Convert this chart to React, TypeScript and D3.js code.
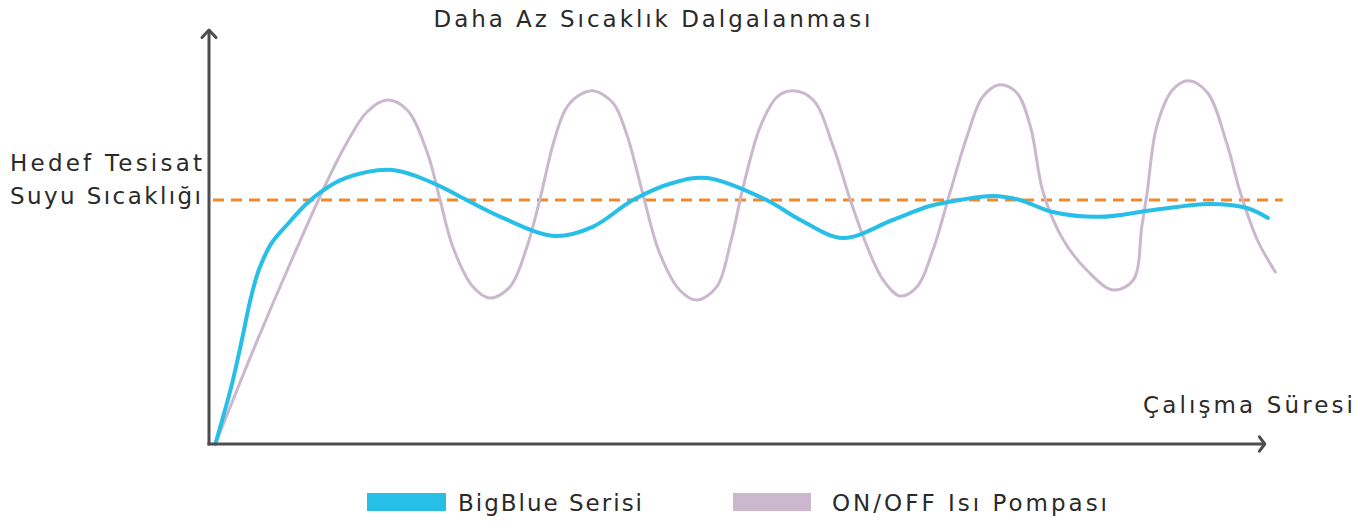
import React from "react";
import * as d3 from "d3";

// ---- data (time units 0..100, temperature units 0..100) ----
const bigBlueTime = [0.6, 2.1, 3.1, 3.9, 4.7, 5.9, 7.5, 9.1, 10.6, 12.8, 17.3, 21.1, 24.3, 27.5, 32.6, 36.2, 40.0, 43.8, 47.0, 52.6, 55.8, 59.8, 64.5, 68.0, 70.8, 74.0, 76.5, 79.6, 84.0, 89.1, 94.4, 97.9, 99.9];
const bigBlueTemp = [0, 14.3, 26, 36, 43.5, 50.2, 55.2, 59.8, 63.1, 66.4, 68.5, 65.3, 61, 56.8, 52, 54.3, 61, 65.3, 66.5, 61, 56, 51.5, 56, 59.5, 61, 62, 61, 58, 56.8, 58.5, 60, 59, 56.5];

const onOffTime = [0.6, 4.3, 7.8, 11.2, 13.0, 14.9, 16.8, 18.7, 20.6, 21.8, 23.0, 24.9, 26.5, 28.4, 30.0, 31.2, 32.5, 33.6, 34.7, 36.2, 38.1, 39.4, 40.9, 42.5, 44.4, 46.0, 47.9, 49.2, 50.4, 52.0, 53.6, 55.1, 57.0, 58.9, 60.5, 62.1, 63.6, 65.2, 66.8, 68.3, 69.9, 71.5, 73.0, 74.6, 76.2, 77.5, 78.7, 80.6, 82.8, 85.3, 87.2, 88.0, 88.5, 89.4, 90.9, 92.4, 94.2, 96.0, 97.3, 98.9, 100.6];
const onOffTemp = [0, 24.3, 46, 66, 75.3, 83, 86, 83.5, 72.8, 61, 49.3, 39.3, 36.5, 39.3, 49.3, 61, 75.3, 83.5, 86.8, 88.3, 85.3, 77.5, 62.8, 47.8, 38.5, 36, 39.3, 50.3, 64.3, 79.3, 86.8, 88.3, 86, 74.3, 61, 49.3, 41, 37, 39.3, 48.5, 62.8, 76.8, 86.8, 89.8, 87.8, 79.3, 62.8, 51, 43.5, 38.5, 41, 54.3, 62.8, 79.3, 88.5, 90.8, 87.8, 75.3, 62.8, 51, 43];

const targetTemp = 61;

const titleText = "Daha Az Sıcaklık Dalgalanması";
const yLabelLines = ["Hedef Tesisat", "Suyu Sıcaklığı"];
const xLabelText = "Çalışma Süresi";
const seriesNames = ["BigBlue Serisi", "ON/OFF Isı Pompası"];
const seriesColors = ["#27bfe8", "#cbb8ce"];

const W = 1371;
const H = 528;

export default function App() {
  const x = d3.scaleLinear().domain([0, 100]).range([209, 1269]);
  const y = d3.scaleLinear().domain([0, 100]).range([444, 44]);

  const blueData = bigBlueTime.map((t, i) => [t, bigBlueTemp[i]] as [number, number]);
  const purpleData = onOffTime.map((t, i) => [t, onOffTemp[i]] as [number, number]);

  const line = d3
    .line<[number, number]>()
    .x((d) => x(d[0]))
    .y((d) => y(d[1]))
    .curve(d3.curveCatmullRom.alpha(0.5));

  const font = "'DejaVu Sans', 'Noto Sans', sans-serif";
  const textColor = "#2a2a2a";
  const axisColor = "#4d4d4d";
  const fs = 23;

  return (
    <svg
      width={W}
      height={H}
      style={{ position: "absolute", left: 0, top: 0, background: "#fff" }}
      fontFamily={font}
    >
      {/* title */}
      <text x={652} y={27} textAnchor="middle" fontSize={fs} fill={textColor} textLength={437} lengthAdjust="spacing">
        {titleText}
      </text>

      {/* y label */}
      <text x={202} y={171} textAnchor="end" fontSize={fs} fill={textColor} textLength={192} lengthAdjust="spacing">
        {yLabelLines[0]}
      </text>
      <text x={201} y={204} textAnchor="end" fontSize={fs} fill={textColor} textLength={191} lengthAdjust="spacing">
        {yLabelLines[1]}
      </text>

      {/* x label */}
      <text x={1143} y={413} fontSize={fs} fill={textColor} textLength={210} lengthAdjust="spacing">
        {xLabelText}
      </text>

      {/* target dashed line */}
      <line
        x1={x(0) + 4}
        x2={x(101.3)}
        y1={y(targetTemp)}
        y2={y(targetTemp)}
        stroke="#f0892a"
        strokeWidth={3}
        strokeDasharray="11 7"
      />

      {/* series */}
      <path d={line(purpleData) || ""} fill="none" stroke={seriesColors[1]} strokeWidth={3} strokeLinecap="round" strokeLinejoin="round" />
      <path d={line(blueData) || ""} fill="none" stroke={seriesColors[0]} strokeWidth={4} strokeLinecap="round" strokeLinejoin="round" />

      {/* axes */}
      <line x1={x(0)} x2={x(0)} y1={y(0) + 1.5} y2={y(103.5)} stroke={axisColor} strokeWidth={3} />
      <path
        d={`M${x(0) - 7},${y(101.6)} L${x(0)},${y(103.5)} L${x(0) + 7},${y(101.6)}`}
        fill="none"
        stroke={axisColor}
        strokeWidth={3}
        strokeLinecap="round"
        strokeLinejoin="round"
      />
      <line x1={x(0) - 1.5} x2={x(99.6)} y1={y(0)} y2={y(0)} stroke={axisColor} strokeWidth={3} />
      <path
        d={`M${x(99.1)},${y(1.8)} L${x(99.6)},${y(0)} L${x(99.1)},${y(-1.8)}`}
        fill="none"
        stroke={axisColor}
        strokeWidth={3}
        strokeLinecap="round"
        strokeLinejoin="round"
      />

      {/* legend */}
      <rect x={367} y={493} width={79} height={18} fill={seriesColors[0]} />
      <text x={458} y={511} fontSize={fs} fill={textColor} textLength={184} lengthAdjust="spacing">
        {seriesNames[0]}
      </text>
      <rect x={733} y={493} width={78} height={18} fill={seriesColors[1]} />
      <text x={832} y={511} fontSize={fs} fill={textColor} textLength={275} lengthAdjust="spacing">
        {seriesNames[1]}
      </text>
    </svg>
  );
}
